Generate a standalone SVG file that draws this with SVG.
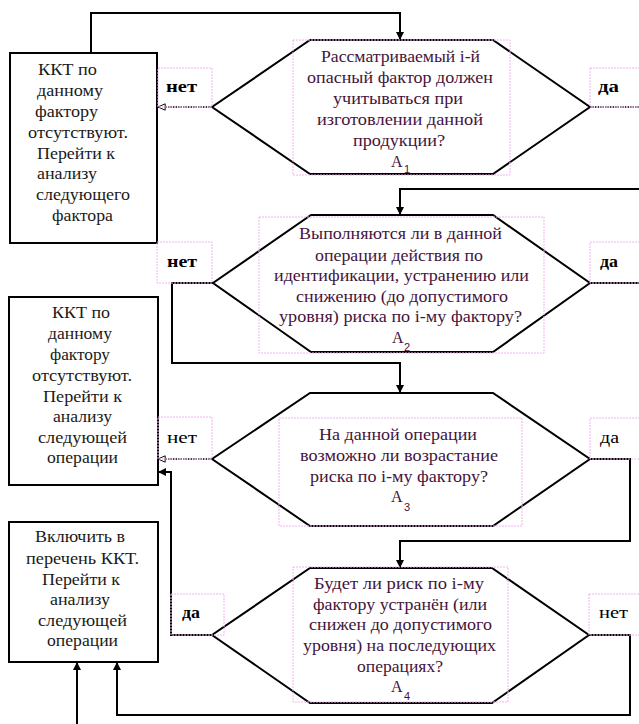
<svg xmlns="http://www.w3.org/2000/svg" width="639" height="724" viewBox="0 0 639 724">
<style>
.line{fill:none;stroke:#000;stroke-width:2}
.dot{fill:none;stroke:#000;stroke-width:1.3;stroke-dasharray:1.5 1}
.shape{fill:#fff;stroke:#000;stroke-width:2}
.tbox{fill:none;stroke:#f0b4f0;stroke-width:1;stroke-dasharray:2 1}
text{font-family:'Liberation Serif','Times New Roman',serif;font-size:16px}
.q{fill:#44143c}
.b{fill:#1a1a1a}
.lb{fill:#000;font-weight:bold}
.ln{fill:#000}
.sub{font-family:'Liberation Sans',Arial,sans-serif;font-size:11px}
</style>
<defs>
<marker id="arr" viewBox="0 0 10 10" refX="10" refY="5" markerWidth="8" markerHeight="8" markerUnits="userSpaceOnUse" orient="auto">
<path d="M0,0 L10,5 L0,10 Z" fill="#000"/>
</marker>
<marker id="arro" viewBox="0 0 10 10" refX="10" refY="5" markerWidth="8" markerHeight="8" markerUnits="userSpaceOnUse" orient="auto">
<path d="M1,1 L10,5 L1,9 Z" fill="#fff" stroke="#000" stroke-width="1.2"/>
</marker>
</defs>
<rect width="639" height="724" fill="#fff"/>

<g id="connectors">
<polyline class="line" points="91,53 91,13 400,13 400,40" marker-end="url(#arr)"/>
<line class="dot" x1="212" y1="107" x2="158" y2="107" marker-end="url(#arro)"/>
<line class="dot" x1="590" y1="107" x2="639" y2="107"/>
<polyline class="line" points="639,189 400,189 400,215" marker-end="url(#arr)"/>
<line class="line" x1="590" y1="283" x2="639" y2="283"/>
<polyline class="line" points="213,283 172,283 172,363 400,363 400,393" marker-end="url(#arr)"/>
<line class="dot" x1="212" y1="459" x2="158" y2="459" marker-end="url(#arro)"/>
<polyline class="line" points="590,459 630,459 630,541 400,541 400,568" marker-end="url(#arr)"/>
<polyline class="line" points="212,635 171,635 171,472 158,472" marker-end="url(#arr)"/>
<polyline class="line" points="589,635 630,635 630,715 117,715 117,662" marker-end="url(#arr)"/>
<line class="line" x1="77" y1="724" x2="77" y2="662" marker-end="url(#arr)"/>
</g>

<g id="box1">
<rect class="shape" x="10" y="53" width="147" height="190"/>
<text class="b" x="38" y="75" textLength="59" lengthAdjust="spacingAndGlyphs">ККТ по</text>
<text class="b" x="37" y="96" textLength="66" lengthAdjust="spacingAndGlyphs">данному</text>
<text class="b" x="35" y="117" textLength="63" lengthAdjust="spacingAndGlyphs">фактору</text>
<text class="b" x="28" y="138" textLength="100" lengthAdjust="spacingAndGlyphs">отсутствуют.</text>
<text class="b" x="37" y="159" textLength="78" lengthAdjust="spacingAndGlyphs">Перейти к</text>
<text class="b" x="37" y="179" textLength="60" lengthAdjust="spacingAndGlyphs">анализу</text>
<text class="b" x="36" y="200" textLength="94" lengthAdjust="spacingAndGlyphs">следующего</text>
<text class="b" x="52" y="221" textLength="61" lengthAdjust="spacingAndGlyphs">фактора</text>
</g>

<g id="box2">
<rect class="shape" x="9" y="297" width="149" height="188"/>
<text class="b" x="52" y="318" textLength="58" lengthAdjust="spacingAndGlyphs">ККТ по</text>
<text class="b" x="48" y="339" textLength="64" lengthAdjust="spacingAndGlyphs">данному</text>
<text class="b" x="50" y="360" textLength="60" lengthAdjust="spacingAndGlyphs">фактору</text>
<text class="b" x="32" y="381" textLength="100" lengthAdjust="spacingAndGlyphs">отсутствуют.</text>
<text class="b" x="43" y="402" textLength="79" lengthAdjust="spacingAndGlyphs">Перейти к</text>
<text class="b" x="53" y="422" textLength="59" lengthAdjust="spacingAndGlyphs">анализу</text>
<text class="b" x="38" y="443" textLength="89" lengthAdjust="spacingAndGlyphs">следующей</text>
<text class="b" x="47" y="463" textLength="71" lengthAdjust="spacingAndGlyphs">операции</text>
</g>

<g id="box3">
<rect class="shape" x="9" y="522" width="149" height="140"/>
<text class="b" x="35" y="542" textLength="90" lengthAdjust="spacingAndGlyphs">Включить в</text>
<text class="b" x="26" y="564" textLength="113" lengthAdjust="spacingAndGlyphs">перечень ККТ.</text>
<text class="b" x="42" y="585" textLength="78" lengthAdjust="spacingAndGlyphs">Перейти к</text>
<text class="b" x="50" y="605" textLength="60" lengthAdjust="spacingAndGlyphs">анализу</text>
<text class="b" x="38" y="626" textLength="89" lengthAdjust="spacingAndGlyphs">следующей</text>
<text class="b" x="47" y="646" textLength="71" lengthAdjust="spacingAndGlyphs">операции</text>
</g>

<g id="decision1">
<polygon class="shape" points="310,40 493,40 590,107 493,174 310,174 212,107"/>
<rect class="tbox" x="293" y="40" width="217" height="135"/>
<text class="q" x="321" y="62" textLength="159" lengthAdjust="spacingAndGlyphs">Рассматриваемый i-й</text>
<text class="q" x="307" y="83" textLength="186" lengthAdjust="spacingAndGlyphs">опасный фактор должен</text>
<text class="q" x="333" y="104" textLength="130" lengthAdjust="spacingAndGlyphs">учитываться при</text>
<text class="q" x="317" y="125" textLength="166" lengthAdjust="spacingAndGlyphs">изготовлении данной</text>
<text class="q" x="353" y="146" textLength="92" lengthAdjust="spacingAndGlyphs">продукции?</text>
<text class="q" x="391" y="167">А<tspan class="sub" x="404" y="173">1</tspan></text>
<rect class="tbox" x="158" y="68" width="54" height="39"/>
<text class="lb" x="166" y="92" textLength="31" lengthAdjust="spacingAndGlyphs">нет</text>
<rect class="tbox" x="590" y="68" width="55" height="39"/>
<text class="lb" x="598" y="92" textLength="21" lengthAdjust="spacingAndGlyphs">да</text>
</g>

<g id="decision2">
<polygon class="shape" points="311,215 493,215 590,283 493,352 311,352 213,283"/>
<rect class="tbox" x="259" y="217" width="285" height="136"/>
<text class="q" x="299" y="239" textLength="203" lengthAdjust="spacingAndGlyphs">Выполняются ли в данной</text>
<text class="q" x="315" y="261" textLength="168" lengthAdjust="spacingAndGlyphs">операции действия по</text>
<text class="q" x="274" y="281" textLength="255" lengthAdjust="spacingAndGlyphs">идентификации, устранению или</text>
<text class="q" x="296" y="302" textLength="212" lengthAdjust="spacingAndGlyphs">снижению (до допустимого</text>
<text class="q" x="279" y="322" textLength="243" lengthAdjust="spacingAndGlyphs">уровня) риска по i-му фактору?</text>
<text class="q" x="392" y="343">А<tspan class="sub" x="404" y="351">2</tspan></text>
<rect class="tbox" x="157" y="242" width="55" height="41"/>
<text class="lb" x="167" y="267" textLength="30" lengthAdjust="spacingAndGlyphs">нет</text>
<rect class="tbox" x="590" y="242" width="55" height="41"/>
<text class="lb" x="600" y="267" textLength="18" lengthAdjust="spacingAndGlyphs">да</text>
</g>

<g id="decision3">
<polygon class="shape" points="310,393 493,393 590,459 493,526 310,526 212,459"/>
<rect class="tbox" x="279" y="418" width="243" height="108"/>
<text class="q" x="319" y="440" textLength="158" lengthAdjust="spacingAndGlyphs">На данной операции</text>
<text class="q" x="300" y="461" textLength="198" lengthAdjust="spacingAndGlyphs">возможно ли возрастание</text>
<text class="q" x="310" y="482" textLength="178" lengthAdjust="spacingAndGlyphs">риска по i-му фактору?</text>
<text class="q" x="391" y="502">А<tspan class="sub" x="404" y="511">3</tspan></text>
<rect class="tbox" x="158" y="417" width="54" height="42"/>
<text class="ln" x="167" y="443" textLength="30" lengthAdjust="spacingAndGlyphs">нет</text>
<rect class="tbox" x="590" y="418" width="55" height="41"/>
<text class="ln" x="600" y="443" textLength="19" lengthAdjust="spacingAndGlyphs">да</text>
</g>

<g id="decision4">
<polygon class="shape" points="310,568 492,568 589,635 492,703 310,703 212,635"/>
<rect class="tbox" x="293" y="567" width="215" height="135"/>
<text class="q" x="314" y="589" textLength="170" lengthAdjust="spacingAndGlyphs">Будет ли риск по  i-му</text>
<text class="q" x="313" y="610" textLength="174" lengthAdjust="spacingAndGlyphs">фактору устранён (или</text>
<text class="q" x="309" y="630" textLength="183" lengthAdjust="spacingAndGlyphs">снижен до допустимого</text>
<text class="q" x="303" y="651" textLength="193" lengthAdjust="spacingAndGlyphs">уровня) на последующих</text>
<text class="q" x="357" y="672" textLength="86" lengthAdjust="spacingAndGlyphs">операциях?</text>
<text class="q" x="391" y="692">А<tspan class="sub" x="404" y="700">4</tspan></text>
<rect class="tbox" x="171" y="594" width="53" height="41"/>
<text class="lb" x="182" y="618" textLength="18" lengthAdjust="spacingAndGlyphs">да</text>
<rect class="tbox" x="589" y="594" width="56" height="41"/>
<text class="ln" x="599" y="618" textLength="29" lengthAdjust="spacingAndGlyphs">нет</text>
</g>
</svg>
